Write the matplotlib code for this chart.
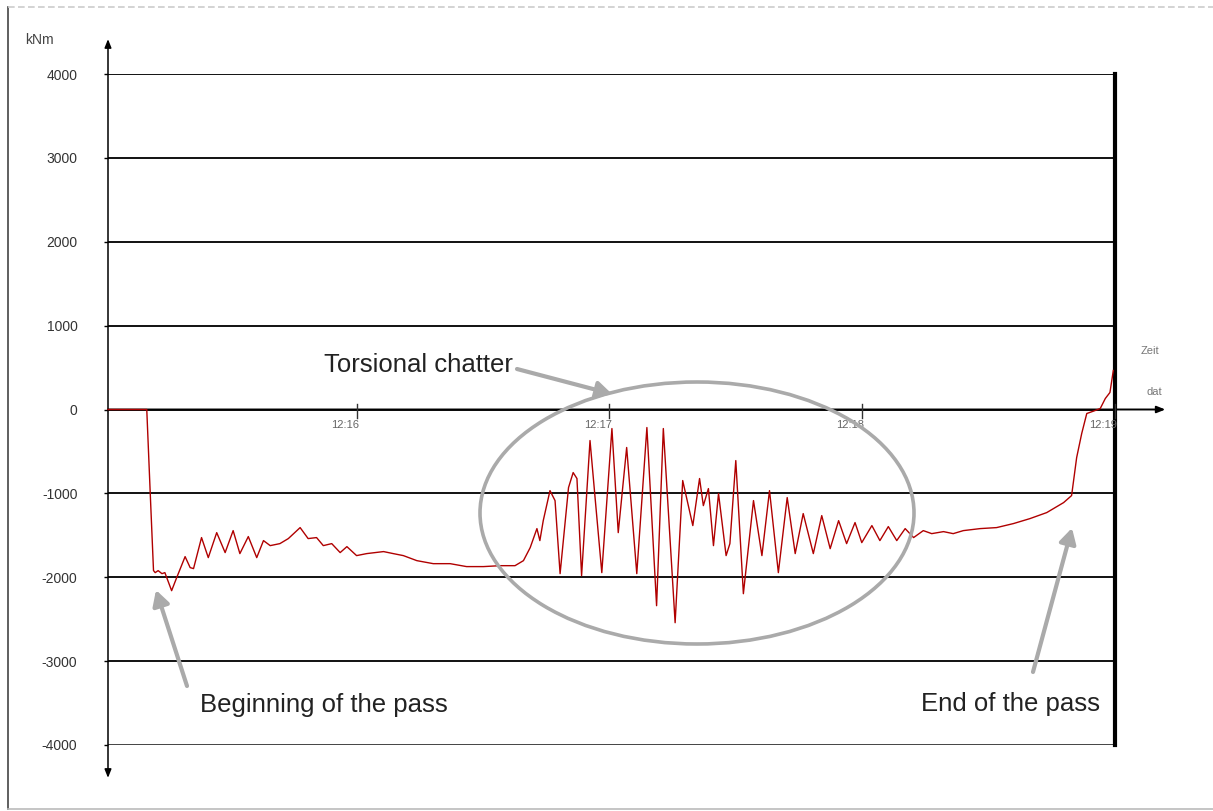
import matplotlib
matplotlib.use("Agg")
import matplotlib.pyplot as plt
from matplotlib.patches import Ellipse
from matplotlib.lines import Line2D

# ---- data (time in seconds after 12:15:00, torque in kNm) ----
time_s = [1.0, 10.2, 11.0, 11.8, 12.2, 12.9, 13.8, 14.5, 16.1, 17.3, 19.3, 20.5, 21.3,
          23.2, 24.8, 26.8, 28.8, 30.7, 32.3, 34.3, 36.3, 37.9, 39.5, 41.8, 43.8, 46.6,
          48.5, 50.5, 52.1, 54.1, 56.1, 57.7, 60.0, 62.4, 66.4, 68.7, 71.1, 74.3, 78.2,
          82.2, 86.1, 90.1, 94.1, 97.6, 99.6, 101.2, 102.8, 103.5, 104.3, 105.9, 107.1,
          108.3, 110.3, 111.4, 112.3, 113.4, 115.4, 116.6, 118.2, 120.6, 122.1, 124.1,
          126.5, 128.9, 131.2, 132.8, 135.6, 137.4, 139.8, 141.4, 142.3, 143.5, 144.7,
          145.9, 147.7, 148.6, 150.0, 151.8, 154.2, 156.2, 158.0, 160.1, 162.2, 164.1,
          166.0, 168.4, 170.4, 172.4, 174.4, 176.3, 178.3, 179.9, 182.3, 184.2, 186.2,
          188.2, 190.2, 192.2, 194.5, 196.5, 199.3, 201.6, 204.0, 208.0, 211.9, 215.9,
          219.8, 223.8, 227.8, 229.7, 230.9, 232.1, 233.3, 235.3, 236.5, 237.7, 238.8,
          239.6]
torque_knm = [0, 0, -970, -1920, -1945, -1921, -1957, -1945, -2160, -2005, -1754, -1885,
              -1897, -1527, -1766, -1468, -1706, -1444, -1718, -1515, -1766, -1563, -1623,
              -1599, -1539, -1408, -1539, -1527, -1623, -1599, -1706, -1635, -1742, -1718,
              -1694, -1718, -1742, -1802, -1838, -1838, -1873, -1873, -1862, -1862, -1802,
              -1647, -1420, -1563, -1325, -967, -1086, -1957, -931, -752, -823, -1981,
              -370, -1050, -1945, -227, -1468, -453, -1957, -215, -2339, -227, -2542,
              -847, -1384, -823, -1146, -943, -1623, -1002, -1742, -1599, -609, -2196,
              -1086, -1742, -967, -1945, -1050, -1718, -1241, -1718, -1265, -1659, -1325,
              -1599, -1348, -1587, -1384, -1563, -1396, -1563, -1420, -1527, -1444, -1480,
              -1456, -1480, -1444, -1420, -1408, -1360, -1301, -1229, -1110, -1026, -573,
              -286, -48, -12, 12, 131, 203, 465]

y_ticks = [4000, 3000, 2000, 1000, 0, -1000, -2000, -3000, -4000]
x_ticks = [60, 120, 180, 240]
x_tick_labels = ["12:16", "12:17", "12:18", "12:19"]

W, H = 1213, 811
fig = plt.figure(figsize=(W / 100, H / 100), dpi=100)
fig.patch.set_facecolor("white")

# main axes in pixel layout: x 108..1115, y 74..745
ax = fig.add_axes([108 / W, 1 - 745 / H, (1115 - 108) / W, (745 - 74) / H])
ax.set_xlim(1, 240)
ax.set_ylim(-4000, 4000)
for s in ["left", "top", "bottom"]:
    ax.spines[s].set_visible(False)
ax.spines["right"].set_linewidth(3)
ax.spines["right"].set_color("black")

ax.set_yticks(y_ticks)
ax.set_yticklabels([str(v) for v in y_ticks], fontsize=10, color="#333333",
                   family=["Liberation Sans", "DejaVu Sans"])
ax.tick_params(axis="y", direction="out", length=3, width=1, pad=19)
ax.set_xticks([])
for v in y_ticks:
    ax.axhline(v, color="#111111" if v != -4000 else "#444444", lw=1.4, zorder=1)

# axes with arrows
ax.annotate("", xy=(0, 1.052), xytext=(0, -0.049), xycoords="axes fraction",
            arrowprops=dict(arrowstyle="<|-|>,head_length=0.5,head_width=0.2",
                            color="black", lw=1.1, shrinkA=0, shrinkB=0),
            annotation_clip=False)
ax.annotate("", xy=(1.05, 0), xytext=(0, 0), xycoords=("axes fraction", "data"),
            textcoords=("axes fraction", "data"),
            arrowprops=dict(arrowstyle="-|>,head_length=0.5,head_width=0.2",
                            color="black", lw=1.4, shrinkA=0, shrinkB=0),
            annotation_clip=False)

# x ticks crossing the zero line
for xt, lab in zip(x_ticks, x_tick_labels):
    ax.plot([xt, xt], [60, -100], color="#333333", lw=1, clip_on=False, zorder=3)
    ax.text(xt + 0.5, -190, lab, ha="right", va="center", fontsize=8, color="#666666",
            family=["Liberation Sans", "DejaVu Sans"], clip_on=False)

ax.text(246, 700, "Zeit", ha="left", va="center", fontsize=8, color="#777777",
        family=["Liberation Sans", "DejaVu Sans"], clip_on=False)
ax.text(247.5, 203, "dat", ha="left", va="center", fontsize=8, color="#777777",
        family=["Liberation Sans", "DejaVu Sans"], clip_on=False)

# signal
ax.plot(time_s, torque_knm, color="#b00000", lw=1.0, zorder=4, clip_on=False)

fig.text(25 / W, 1 - 40 / H, "kNm", ha="left", va="center", fontsize=10,
         color="#444444", family=["Liberation Sans", "DejaVu Sans"])

# overlay for annotations in pixel space
ov = fig.add_axes([0, 0, 1, 1], zorder=5)
ov.set_xlim(0, W)
ov.set_ylim(H, 0)
ov.axis("off")
ov.patch.set_alpha(0)

# outer frame
ov.add_line(Line2D([8, 8], [7, 809], color="#444444", lw=1.2))
ov.add_line(Line2D([8, W], [7, 7], color="#cccccc", lw=1.2, ls=(0, (4, 2))))
ov.add_line(Line2D([8, W], [809, 809], color="#bbbbbb", lw=1.2))

gray = "#aaaaaa"
ov.add_patch(Ellipse((697, 513), 434, 262, fill=False, ec=gray, lw=2.6))

afont = ["Liberation Sans", "DejaVu Sans"]
ov.text(324, 372, "Torsional chatter", ha="left", va="baseline", fontsize=18.5,
        color="#222222", family=afont)
ov.text(200, 712, "Beginning of the pass", ha="left", va="baseline", fontsize=18.5,
        color="#222222", family=afont)
ov.text(921, 711, "End of the pass", ha="left", va="baseline", fontsize=18.5,
        color="#222222", family=afont)

arrow_style = dict(arrowstyle="-|>,head_length=0.9,head_width=0.5", color=gray, lw=3,
                   shrinkA=0, shrinkB=0)
ov.annotate("", xy=(612, 394), xytext=(517, 369), arrowprops=arrow_style)
ov.annotate("", xy=(156, 590), xytext=(187, 686), arrowprops=arrow_style)
ov.annotate("", xy=(1072, 528), xytext=(1033, 672), arrowprops=arrow_style)

fig.savefig("out.png", dpi=100, facecolor="white")
